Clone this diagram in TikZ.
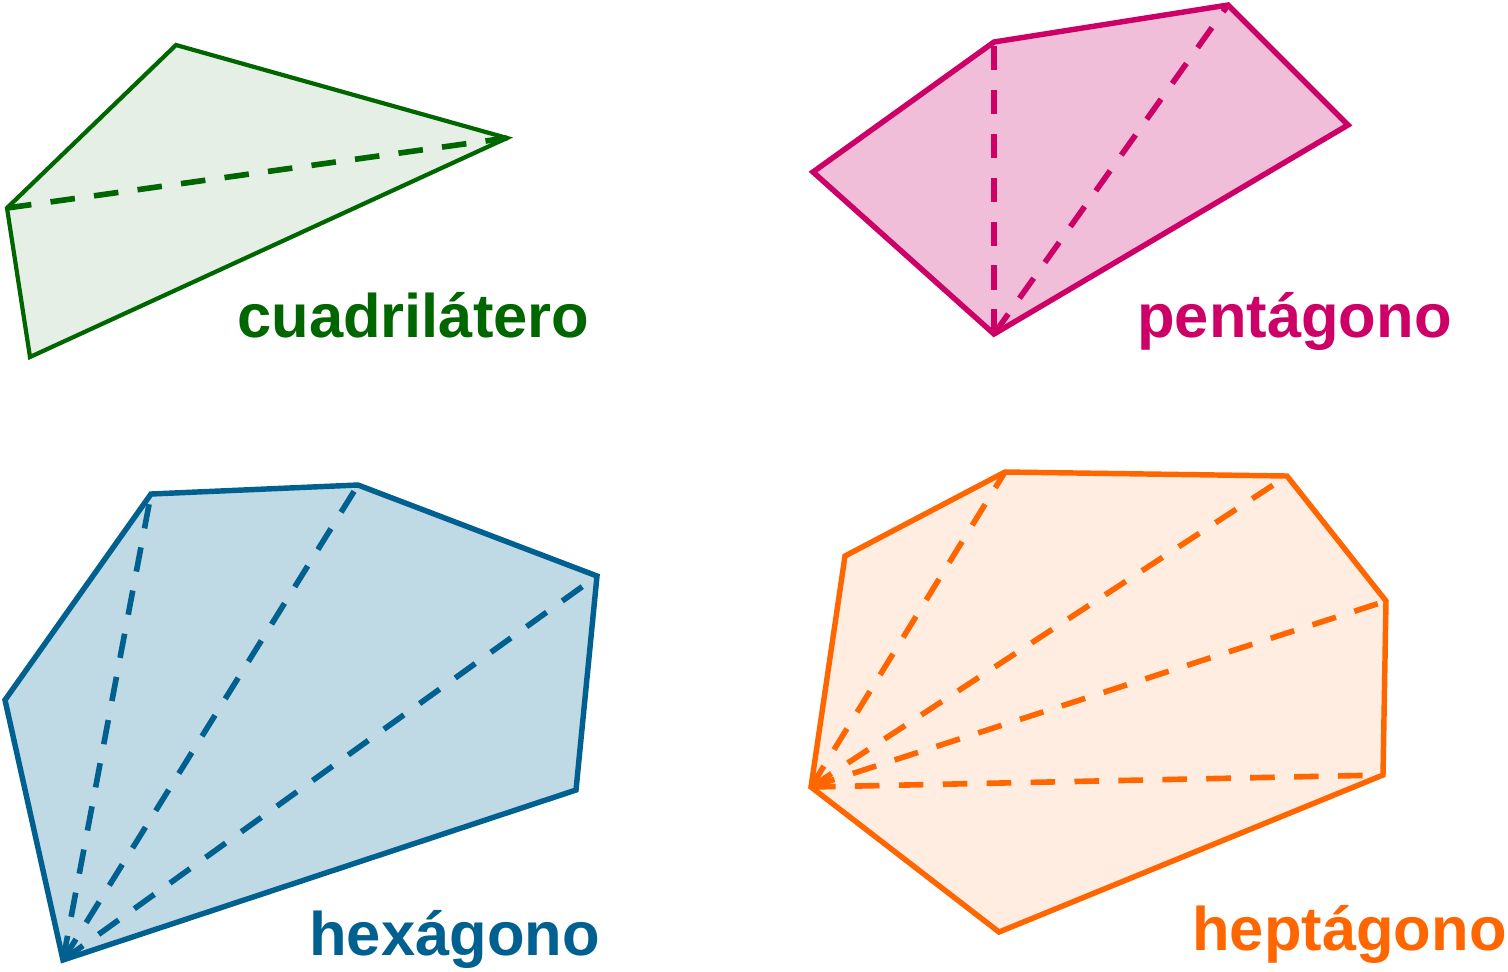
\documentclass[tikz,border=0pt]{standalone}
\usepackage{fontspec}
\setmainfont{Liberation Sans}
\definecolor{quadcol}{RGB}{0,102,0}
\definecolor{quadfill}{RGB}{229,239,229}
\definecolor{pentcol}{RGB}{204,0,102}
\definecolor{pentfill}{RGB}{240,190,216}
\definecolor{hexcol}{RGB}{0,96,144}
\definecolor{hexfill}{RGB}{191,218,228}
\definecolor{heptcol}{RGB}{255,102,0}
\definecolor{heptfill}{RGB}{255,237,226}
\tikzset{
  side/.style={line width=3.1pt,line join=miter},
  diag/.style={line width=3.2pt,dash pattern=on 14pt off 11pt},
  polyname/.style={anchor=base west,inner sep=0pt,font=\fontsize{35}{35}\selectfont\bfseries}
}

\begin{document}
\begin{tikzpicture}[x=0.02cm,y=-0.02cm]
                \useasboundingbox(0,0)rectangle(1508,971);
                % cuadrilatero
                \coordinate(Q1)at(7,208);
                \coordinate(Q2)at(176,45);
                \coordinate(Q3)at(507,138);
                \coordinate(Q4)at(30,357);
                \fill[quadfill](Q1)--(Q2)--(Q3)--(Q4)--cycle;
                \draw[diag,quadcol](Q1)--(Q3);
                \draw[side,quadcol,line width=2.4pt](Q1)--(Q2)--(Q3)--(Q4)--cycle;
                \node[polyname,text=quadcol](quad)at(237,337){cuadrilátero};
                % pentagono
                \coordinate(P1)at(994,334);
                \coordinate(P2)at(813,172);
                \coordinate(P3)at(994,42);
                \coordinate(P4)at(1228,5);
                \coordinate(P5)at(1348,125);
                \fill[pentfill](P1)--(P2)--(P3)--(P4)--(P5)--cycle;
                \foreach \v in {P3,P4}
                    \draw[diag,pentcol](P1)--(\v);
                \draw[side,pentcol](P1)--(P2)--(P3)--(P4)--(P5)--cycle;
                \node[polyname,text=pentcol](pent)at(1137,337){pentágono};
                % hexagono
                \coordinate(H1)at(63,960);
                \coordinate(H2)at(5,700);
                \coordinate(H3)at(151,494);
                \coordinate(H4)at(358,485);
                \coordinate(H5)at(597,576);
                \coordinate(H6)at(576,790);
                \fill[hexfill](H1)--(H2)--(H3)--(H4)--(H5)--(H6)--cycle;
                \foreach \v in {H3,H4,H5}
                    \draw[diag,hexcol](H1)--(\v);
                \draw[side,hexcol](H1)--(H2)--(H3)--(H4)--(H5)--(H6)--cycle;
                \node[polyname,text=hexcol](hex)at(309,955){hexágono};
                % heptagono
                \coordinate(S1)at(811,787);
                \coordinate(S2)at(845,556);
                \coordinate(S3)at(1005,472);
                \coordinate(S4)at(1287,476);
                \coordinate(S5)at(1386,601);
                \coordinate(S6)at(1383,775);
                \coordinate(S7)at(999,932);
                \fill[heptfill](S1)--(S2)--(S3)--(S4)--(S5)--(S6)--(S7)--cycle;
                \foreach \v in {S3,S4,S5,S6}
                    \draw[diag,heptcol](S1)--(\v);
                \draw[side,heptcol](S1)--(S2)--(S3)--(S4)--(S5)--(S6)--(S7)--cycle;
                \node[polyname,text=heptcol](hept)at(1192,950){heptágono};
            \end{tikzpicture}
\end{document}
